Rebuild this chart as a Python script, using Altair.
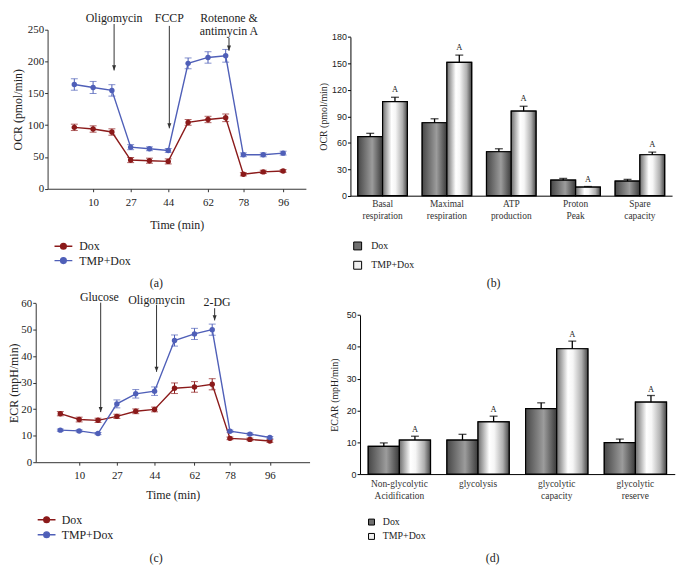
import altair as alt
import pandas as pd

SERIF = "Liberation Serif"
SANS = "Liberation Sans"
INK = "#222222"
ARROW = "#333333"

W, H = 677, 563  # whole drawing area (pixels); panels are placed through scale ranges

series = ["Dox", "TMP+Dox"]
line_colors = ["#8b1a1a", "#4f5fb8"]

# ---------------- (a) OCR time course ----------------
time_min = [1.5, 10, 18.5, 27, 35.5, 44, 53, 62, 70, 78, 87, 96]
time_ticks = [10, 27, 44, 62, 78, 96]
ocr_dox = [96.5, 93.9, 89.2, 45.1, 44.1, 43.0, 104.3, 108.9, 111.5, 22.8, 26.5, 28.0]
ocr_dox_err = [5, 5, 5, 4, 4, 4, 4.5, 5, 6, 2.5, 2.5, 2]
ocr_tmp = [163.9, 159.2, 154.6, 65.4, 62.8, 60.2, 197.1, 206.4, 209.0, 53.4, 53.4, 56.0]
ocr_tmp_err = [9, 9.5, 9, 4, 3, 3, 8.5, 9, 10, 3, 3, 3]
ocr_arrow_t = [19.5, 44.5, 71.5]
ocr_arrow_top = [259, 256, 237]
ocr_arrow_tip = [186, 95, 217]
ocr_label_text = ["Oligomycin", "FCCP", "Rotenone &", "antimycin A"]
ocr_label_t = [19.5, 44.5, 71.5, 71.5]
ocr_label_y = [268.5, 267.6, 268, 248.4]

# ---------------- (c) ECR time course ----------------
ecr_dox = [18.3, 16.1, 15.8, 17.3, 19.2, 19.9, 27.9, 28.4, 29.4, 9.0, 8.6, 8.0]
ecr_dox_err = [0.8, 0.9, 0.8, 0.8, 0.9, 0.9, 2.0, 2.0, 2.1, 0.5, 0.5, 0.5]
ecr_tmp = [12.1, 11.8, 10.8, 22.0, 25.8, 26.8, 45.9, 48.4, 50.0, 11.7, 10.6, 9.3]
ecr_tmp_err = [0.4, 0.4, 0.4, 1.5, 1.6, 1.6, 2.1, 2.1, 2.1, 0.4, 0.4, 0.4]
ecr_arrow_t = [19.7, 44.9, 71.1]
ecr_arrow_top = [60.2, 59.4, 58.1]
ecr_arrow_tip = [18.9, 34.1, 53.5]
ecr_label_text = ["Glucose", "Oligomycin", "2-DG"]
ecr_label_t = [19.1, 44.9, 72.2]
ecr_label_y = [62.2, 61.2, 60.6]

# ---------------- (b) OCR bars ----------------
ocr_cats = ["Basal respiration", "Maximal respiration", "ATP production",
            "Proton Peak", "Spare capacity"]
ocr_bar_dox = [67.0, 82.7, 49.8, 17.6, 16.5]
ocr_bar_dox_err = [3.7, 4.5, 3.4, 2.0, 2.0]
ocr_bar_tmp = [106.7, 151.2, 95.8, 9.7, 46.4]
ocr_bar_tmp_err = [4.9, 8.2, 5.6, 0.7, 3.0]
ocr_sig = ["A", "A", "A", "A", "A"]

# ---------------- (d) ECAR bars ----------------
ecar_cats = ["Non-glycolytic Acidification", "glycolysis", "glycolytic capacity",
             "glycolytic reserve"]
ecar_dox = [8.7, 10.7, 20.6, 9.9]
ecar_dox_err = [1.1, 1.8, 1.8, 1.1]
ecar_tmp = [10.7, 16.4, 39.4, 22.6]
ecar_tmp_err = [1.2, 1.8, 2.4, 2.1]
ecar_sig = ["A", "A", "A", "A"]

LEG_PATH = "M-1.5,0H1.5M-0.48,0A0.48,0.48,0,1,1,0.48,0A0.48,0.48,0,1,1,-0.48,0Z"
HEAD_PATH = "M-0.45,-1.15L0.45,-1.15L0,0Z"

GRAD_DOX = alt.LinearGradient(
    gradient="linear", x1=0, x2=1, y1=0, y2=0,
    stops=[alt.GradientStop(color="#474747", offset=0),
           alt.GradientStop(color="#9c9c9c", offset=0.58),
           alt.GradientStop(color="#3a3a3a", offset=1)])
GRAD_TMP = alt.LinearGradient(
    gradient="linear", x1=0, x2=1, y1=0, y2=0,
    stops=[alt.GradientStop(color="#6e6e6e", offset=0),
           alt.GradientStop(color="#ffffff", offset=0.36),
           alt.GradientStop(color="#f6f6f6", offset=0.52),
           alt.GradientStop(color="#b0b0b0", offset=0.8),
           alt.GradientStop(color="#474747", offset=1)])


def long_df(x, a, ae, b, be):
    n = len(x)
    return pd.DataFrame({"t": list(x) * 2, "v": a + b, "e": ae + be,
                         "s": [series[0]] * n + [series[1]] * n})


def line_panel(df, xdom, xrng, ydom, yrng, yticks, ytitle, arrows, labels, leg,
               caption, cap_xy, ytp, xlp, xtp):
    xs = alt.Scale(domain=xdom, range=xrng, nice=False, zero=False)
    ys = alt.Scale(domain=ydom, range=yrng, nice=False, zero=False)
    xax = alt.Axis(values=time_ticks, title="Time (min)", grid=False, tickSize=3,
                   orient="bottom", offset=yrng[0] - H, labelFlush=False,
                   labelPadding=xlp, titlePadding=xtp, labelFont=SERIF, labelFontSize=11,
                   titleFont=SERIF, titleFontSize=12, titleFontWeight="normal",
                   labelColor=INK, titleColor=INK, domainColor="#333", tickColor="#333")
    yax = alt.Axis(values=yticks, title=ytitle, grid=False, tickSize=3, labelPadding=1,
                   orient="left", offset=-xrng[0], labelFlush=False,
                   titlePadding=ytp, labelFont=SERIF, labelFontSize=11,
                   titleFont=SERIF, titleFontSize=12, titleFontWeight="normal",
                   labelColor=INK, titleColor=INK, domainColor="#333", tickColor="#333")

    def X():
        return alt.X("t:Q", scale=xs, axis=xax)

    def Y(f):
        return alt.Y(f, scale=ys, axis=yax)

    sc = alt.Scale(domain=series, range=line_colors)
    legend = alt.Legend(orient="none", legendX=leg[0], legendY=leg[1], title=None,
                        symbolType=LEG_PATH, symbolSize=144, symbolStrokeWidth=1.4,
                        labelOffset=leg[2], rowPadding=leg[3], padding=0,
                        labelFont=SERIF, labelFontSize=12, labelColor=INK)
    base = alt.Chart(df).transform_calculate(lo="datum.v - datum.e", hi="datum.v + datum.e")
    line = base.mark_line(strokeWidth=1.4).encode(
        x=X(), y=Y("v:Q"), stroke=alt.Stroke("s:N", scale=sc, legend=legend))
    err = base.mark_rule(strokeWidth=1).encode(
        x=X(), y=Y("lo:Q"), y2="hi:Q",
        color=alt.Color("s:N", scale=sc, legend=None))
    cap_lo = base.mark_tick(orient="horizontal", size=7, thickness=1).encode(
        x=X(), y=Y("lo:Q"), color=alt.Color("s:N", scale=sc, legend=None))
    cap_hi = base.mark_tick(orient="horizontal", size=7, thickness=1).encode(
        x=X(), y=Y("hi:Q"), color=alt.Color("s:N", scale=sc, legend=None))
    pts = base.mark_point(filled=True, size=30, opacity=1).encode(
        x=X(), y=Y("v:Q"), fill=alt.Fill("s:N", scale=sc, legend=legend))
    arr = alt.Chart(arrows).mark_rule(color=ARROW, strokeWidth=1).encode(
        x=X(), y=Y("top:Q"), y2="tip:Q")
    head = alt.Chart(arrows).mark_point(shape=HEAD_PATH, size=81, filled=True,
                                        color=ARROW, opacity=1).encode(
        x=X(), y=Y("tip:Q"))
    lab = alt.Chart(labels).mark_text(font=SERIF, fontSize=12, color=INK).encode(
        x=X(), y=Y("y:Q"), text="text:N")
    cap = alt.Chart(pd.DataFrame({"c": [caption]})).mark_text(
        font=SERIF, fontSize=12, color=INK).encode(
        x=alt.value(cap_xy[0]), y=alt.value(cap_xy[1]), text="c:N")
    return alt.layer(line, err, cap_lo, cap_hi, pts, arr, head, lab, cap)


def bar_panel(cats, dox, dox_e, tmp, tmp_e, sig, ydom, yrng, yticks, ytitle, xrng,
              pin, pout, ytp, xlp, xlh, leg, sig_dy, caption, cap_xy):
    n = len(cats)
    df = pd.DataFrame({"c": cats * 2, "s": [series[0]] * n + [series[1]] * n,
                       "v": dox + tmp, "e": dox_e + tmp_e, "sig": [""] * n + sig})
    base = alt.Chart(df).transform_calculate(hi="datum.v + datum.e")
    xs = alt.Scale(domain=cats, range=xrng, paddingInner=pin, paddingOuter=pout)
    xax = alt.Axis(title=None, labelAngle=0, ticks=False, labelPadding=xlp,
                   orient="bottom", offset=yrng[0] - H,
                   labelExpr="split(datum.label, ' ')", labelFont=SERIF, labelFontSize=9.5,
                   labelLineHeight=xlh, labelColor="#333", domainColor="black")
    yax = alt.Axis(values=yticks, title=ytitle, grid=False, tickSize=3, labelPadding=1,
                   orient="left", offset=-xrng[0], labelFlush=False,
                   titlePadding=ytp, labelFont=SANS, labelFontSize=9,
                   titleFont=SERIF, titleFontSize=10, titleFontWeight="normal",
                   labelColor=INK, titleColor=INK, domainColor="black", tickColor="black")
    ys = alt.Scale(domain=ydom, range=yrng, nice=False)

    def X():
        return alt.X("c:N", scale=xs, axis=xax)

    def Y(f):
        return alt.Y(f, scale=ys, axis=yax)

    XO = alt.XOffset("s:N", scale=alt.Scale(domain=series, paddingInner=0, paddingOuter=0))
    legend = alt.Legend(orient="none", legendX=leg[0], legendY=leg[1], title=None,
                        symbolType="square", symbolSize=leg[2], symbolStrokeColor="black",
                        symbolStrokeWidth=1, labelOffset=leg[3], rowPadding=leg[4],
                        padding=0, labelFont=SERIF, labelFontSize=10, labelColor=INK)
    bars = base.mark_bar(stroke="black", strokeWidth=1.2).encode(
        x=X(), xOffset=XO, y=Y("v:Q"),
        fill=alt.Fill("s:N", scale=alt.Scale(domain=series, range=["#707070", "#f0f0f0"]),
                      legend=legend))
    g_dox = base.transform_filter(alt.datum.s == series[0]).mark_bar(
        fill=GRAD_DOX, stroke="black", strokeWidth=1.2).encode(x=X(), xOffset=XO, y=Y("v:Q"))
    g_tmp = base.transform_filter(alt.datum.s == series[1]).mark_bar(
        fill=GRAD_TMP, stroke="black", strokeWidth=1.2).encode(x=X(), xOffset=XO, y=Y("v:Q"))
    err = base.mark_rule(color="black", strokeWidth=1.3).encode(
        x=X(), xOffset=XO, y=Y("v:Q"), y2="hi:Q")
    cap_t = base.mark_tick(orient="horizontal", size=8, thickness=1.3, color="black").encode(
        x=X(), xOffset=XO, y=Y("hi:Q"))
    txt = base.transform_filter(alt.datum.s == series[1]).mark_text(
        font=SERIF, fontSize=8.5, color=INK, dy=sig_dy).encode(
        x=X(), xOffset=XO, y=Y("hi:Q"), text="sig:N")
    cap = alt.Chart(pd.DataFrame({"c": [caption]})).mark_text(
        font=SERIF, fontSize=12, color=INK).encode(
        x=alt.value(cap_xy[0]), y=alt.value(cap_xy[1]), text="c:N")
    return alt.layer(bars, g_dox, g_tmp, err, cap_t, txt, cap)


ocr_arrows = pd.DataFrame({"t": ocr_arrow_t, "top": ocr_arrow_top, "tip": ocr_arrow_tip})
ocr_labels = pd.DataFrame({"t": ocr_label_t, "y": ocr_label_y, "text": ocr_label_text})
ecr_arrows = pd.DataFrame({"t": ecr_arrow_t, "top": ecr_arrow_top, "tip": ecr_arrow_tip})
ecr_labels = pd.DataFrame({"t": ecr_label_t, "y": ecr_label_y, "text": ecr_label_text})

panel_a = line_panel(
    long_df(time_min, ocr_dox, ocr_dox_err, ocr_tmp, ocr_tmp_err),
    [-10.6, 106.3], [39, 300], [0, 250], [179.7, 19], [0, 50, 100, 150, 200, 250],
    "OCR (pmol/min)", ocr_arrows, ocr_labels, (48, 230.8, 9, 1.5), "(a)", (149, 274.7),
    ytp=2.5, xlp=5, xtp=12.5)

panel_c = line_panel(
    long_df(time_min, ecr_dox, ecr_dox_err, ecr_tmp, ecr_tmp_err),
    [-9.6, 113.9], [27, 303.7], [0, 60], [456, 295.3], [0, 10, 20, 30, 40, 50, 60],
    "ECR (mpH/min)", ecr_arrows, ecr_labels, (31, 507.1, 8.3, 2.2), "(c)", (148.7, 553),
    ytp=0, xlp=4, xtp=10)

panel_b = bar_panel(
    ocr_cats, ocr_bar_dox, ocr_bar_dox_err, ocr_bar_tmp, ocr_bar_tmp_err, ocr_sig,
    [0, 180], [186.7, 26.3], [0, 30, 60, 90, 120, 150, 180], "OCR (pmol/min)",
    [345, 670], 0.2308, 0.1154, ytp=3, xlp=3, xlh=11.6,
    leg=(347.3, 232.5, 64, 8.7, 7.5), sig_dy=-8, caption="(b)", cap_xy=(489.7, 275))

panel_d = bar_panel(
    ecar_cats, ecar_dox, ecar_dox_err, ecar_tmp, ecar_tmp_err, ecar_sig,
    [0, 50], [468, 307.3], [0, 10, 20, 30, 40, 50], "ECAR (mpH/min)",
    [354.7, 672.7], 0.209, 0.1045, ytp=7, xlp=4.2, xlh=12.6,
    leg=(361.3, 511.5, 36, 6.4, 4.5), sig_dy=-7, caption="(d)", cap_xy=(488.7, 553))

RES = dict(x="independent", y="independent", xOffset="independent",
           fill="independent", stroke="independent", color="independent")

chart = (alt.layer(panel_a, panel_b, panel_c, panel_d)
         .resolve_scale(**RES)
         .resolve_axis(x="independent", y="independent")
         .resolve_legend(fill="independent", stroke="independent", color="independent")
         .properties(width=W, height=H, padding=0)
         .configure(font=SERIF)
         .configure_view(stroke=None))

chart.save("out.html", embed_options={"renderer": "svg", "actions": False})
